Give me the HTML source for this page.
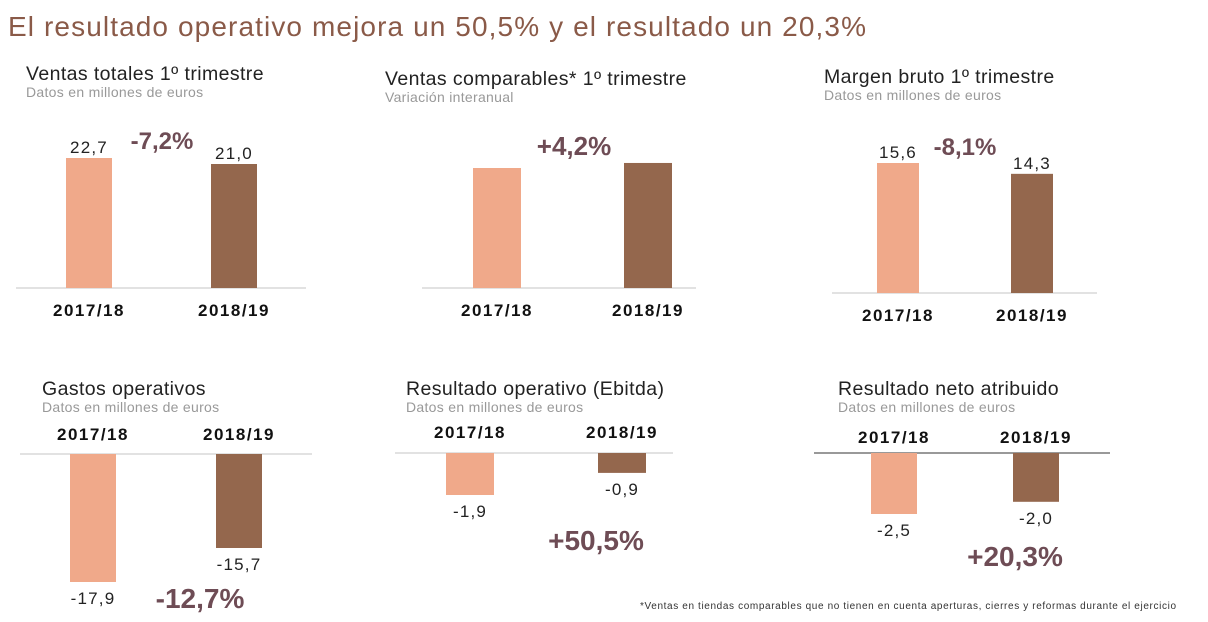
<!DOCTYPE html>
<html><head><meta charset="utf-8">
<style>
html,body{margin:0;padding:0;background:#fff;width:1208px;height:622px;overflow:hidden;}
svg{display:block;font-family:"Liberation Sans",sans-serif;}
</style></head>
<body>
<svg id="c" width="1208" height="622" viewBox="0 0 1208 622" xmlns="http://www.w3.org/2000/svg">
<text x="8" y="36" font-size="28" fill="#8a5a48" textLength="858" lengthAdjust="spacing">El resultado operativo mejora un 50,5% y el resultado un 20,3%</text>
<text x="640" y="609" font-size="10" fill="#333" textLength="536" lengthAdjust="spacing">*Ventas en tiendas comparables que no tienen en cuenta aperturas, cierres y reformas durante el ejercicio</text>
</svg>
<script>
const categories = ["2017/18", "2018/19"];
const ventasValues = [22.7, 21.0];
const ventasLabels = ["22,7", "21,0"];
const comparablesValues = [100, 104.2];
const comparablesLabels = ["", ""];
const margenValues = [15.6, 14.3];
const margenLabels = ["15,6", "14,3"];
const gastosValues = [-17.9, -15.7];
const gastosLabels = ["-17,9", "-15,7"];
const ebitdaValues = [-1.9, -0.9];
const ebitdaLabels = ["-1,9", "-0,9"];
const netoValues = [-2.5, -2.0];
const netoLabels = ["-2,5", "-2,0"];
const changeLabels = ["-7,2%", "+4,2%", "-8,1%", "-12,7%", "+50,5%", "+20,3%"];

const NS = "http://www.w3.org/2000/svg";
const svg = document.getElementById('c');
const COLORS = ["#f0a98a", "#94674d"];
function mk(tag, attrs, text) {
  const e = document.createElementNS(NS, tag);
  for (const k in attrs) e.setAttribute(k, attrs[k]);
  if (text !== undefined) e.textContent = text;
  svg.appendChild(e);
  return e;
}
function panel(cfg, values, labels, change, key) {
  const t = mk('text', {x: cfg.tx, y: cfg.ty, 'font-size': 19.5, fill: '#222', 'letter-spacing': 0.4}, cfg.title);
  
  
  const s = mk('text', {x: cfg.tx, y: cfg.ty + 17, 'font-size': 14, fill: '#999', 'letter-spacing': 0.3}, cfg.sub);
  
  
  const ax = mk('line', {x1: cfg.ax0, x2: cfg.ax1, y1: cfg.base, y2: cfg.base, stroke: cfg.axColor || '#e2e2e2', 'stroke-width': 2});
  
  
  const d = cfg.dom, h = cfg.hpx;
  const scale = v => h[0] + (Math.abs(v) - d[0]) * (h[1] - h[0]) / (d[1] - d[0]);
  values.forEach((v, i) => {
    const x = cfg.bx[i], bh = scale(v);
    const neg = v < 0;
    const y = neg ? cfg.base : cfg.base - bh;
    const r = mk('rect', {x: x, y: y, width: cfg.bw, height: bh, fill: COLORS[i]});
    
    
    const cx = x + cfg.bw / 2;
    if (labels[i]) {
      const ly = neg ? cfg.base + bh + 22 : cfg.base - bh - 5;
      const l = mk('text', {x: cx, y: ly, 'font-size': 17, 'letter-spacing': 1.2, 'text-anchor': 'middle', fill: '#222'}, labels[i]);
      
      
    }
    const c = mk('text', {x: cx, y: cfg.cy, 'font-size': 17, 'letter-spacing': 1.5, 'font-weight': 'bold', 'text-anchor': 'middle', fill: '#111'}, categories[i]);
    
    
  });
  const p = mk('text', {x: cfg.px, y: cfg.py, 'font-size': cfg.pf || 24, 'font-weight': 'bold', 'text-anchor': 'middle', fill: '#6e4c55'}, change);
  
  
}
panel({title: 'Ventas totales 1º trimestre', sub: 'Datos en millones de euros', tx: 26, ty: 80, ax0: 16, ax1: 306, base: 288,
  bx: [66, 211], bw: 46, dom: [21.0, 22.7], hpx: [124, 130], cy: 316, px: 162, py: 149}, ventasValues, ventasLabels, changeLabels[0], 'ventas-totales');
panel({title: 'Ventas comparables* 1º trimestre', sub: 'Variación interanual', tx: 385, ty: 85, ax0: 422, ax1: 696, base: 288,
  bx: [473, 624], bw: 48, dom: [0, 100], hpx: [0, 120], cy: 316, px: 574, py: 155, pf: 26}, comparablesValues, comparablesLabels, changeLabels[1], 'ventas-comparables');
panel({title: 'Margen bruto 1º trimestre', sub: 'Datos en millones de euros', tx: 824, ty: 83, ax0: 832, ax1: 1097, base: 293,
  bx: [877, 1011], bw: 42, dom: [0, 15.6], hpx: [0, 130], cy: 321, px: 965, py: 155}, margenValues, margenLabels, changeLabels[2], 'margen-bruto');
panel({title: 'Gastos operativos', sub: 'Datos en millones de euros', tx: 42, ty: 395, ax0: 20, ax1: 312, base: 454,
  bx: [70, 216], bw: 46, dom: [15.7, 17.9], hpx: [94, 128], cy: 440, px: 200, py: 608, pf: 28}, gastosValues, gastosLabels, changeLabels[3], 'gastos-operativos');
panel({title: 'Resultado operativo (Ebitda)', sub: 'Datos en millones de euros', tx: 406, ty: 395, ax0: 395, ax1: 673, base: 453,
  bx: [446, 598], bw: 48, dom: [0, 1.9], hpx: [0, 42], cy: 438, px: 596, py: 550, pf: 28}, ebitdaValues, ebitdaLabels, changeLabels[4], 'resultado-operativo');
panel({title: 'Resultado neto atribuido', sub: 'Datos en millones de euros', tx: 838, ty: 395, ax0: 814, ax1: 1110, base: 453, axColor: '#999',
  bx: [871, 1013], bw: 46, dom: [0, 2.5], hpx: [0, 61], cy: 443, px: 1015, py: 566, pf: 28}, netoValues, netoLabels, changeLabels[5], 'resultado-neto');
</script>
</body></html>
